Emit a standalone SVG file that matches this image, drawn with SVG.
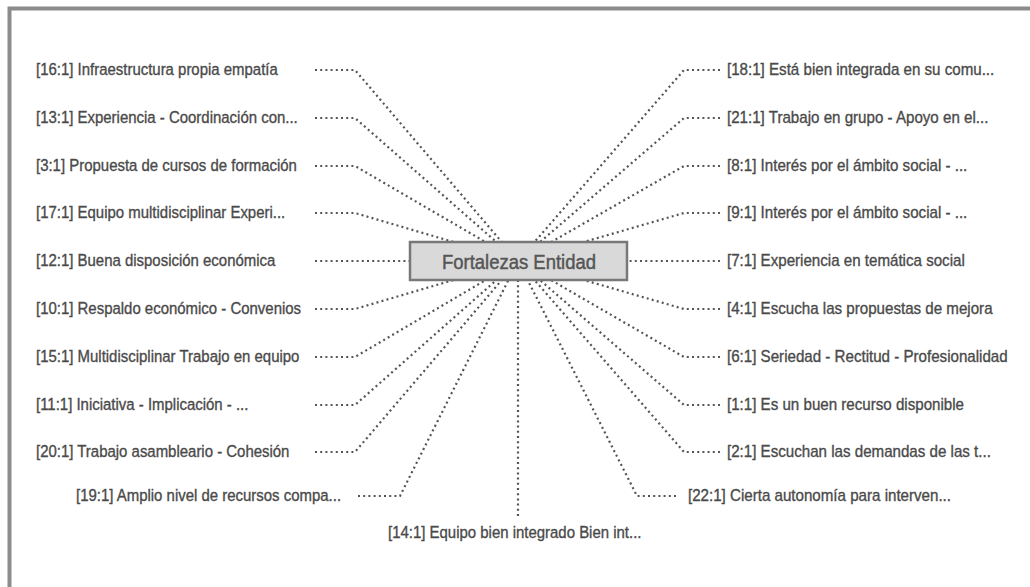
<svg xmlns="http://www.w3.org/2000/svg" width="1030" height="587" viewBox="0 0 1030 587">
<style>
.frame{fill:none;stroke:#8c8c8c;stroke-width:4}
.c{fill:none;stroke:#555;stroke-width:2.2;stroke-dasharray:2 3.2}
.t{font-family:"Liberation Sans",Arial,sans-serif;font-size:17px;fill:#4a4a4a;stroke:#4a4a4a;stroke-width:0.35}
.hub{fill:#d9d9d9;stroke:#787878;stroke-width:2.5}
.ht{font-family:"Liberation Sans",Arial,sans-serif;font-size:21px;fill:#555;stroke:#555;stroke-width:0.45;text-anchor:middle}
</style>
<rect width="1030" height="587" fill="#fff"/>
<path class="frame" d="M9.5 587V8.5H1030"/>
<g id="connectors">
<polyline class="c" points="315,70 355,70 518,261"/>
<polyline class="c" points="315,118 355,118 518,261"/>
<polyline class="c" points="315,166 355,166 518,261"/>
<polyline class="c" points="315,213 355,213 518,261"/>
<polyline class="c" points="315,261 518,261"/>
<polyline class="c" points="315,309 355,309 518,261"/>
<polyline class="c" points="315,357 355,357 518,261"/>
<polyline class="c" points="315,405 355,405 518,261"/>
<polyline class="c" points="315,452 355,452 518,261"/>
<polyline class="c" points="358,496 400,496 518,261"/>
<polyline class="c" points="518,516 518,261"/>
<polyline class="c" points="720,70 684,70 518,261"/>
<polyline class="c" points="720,118 684,118 518,261"/>
<polyline class="c" points="720,166 684,166 518,261"/>
<polyline class="c" points="720,213 684,213 518,261"/>
<polyline class="c" points="720,261 518,261"/>
<polyline class="c" points="720,309 684,309 518,261"/>
<polyline class="c" points="720,357 684,357 518,261"/>
<polyline class="c" points="720,405 684,405 518,261"/>
<polyline class="c" points="720,452 684,452 518,261"/>
<polyline class="c" points="676,496 637,496 518,261"/>
</g>
<g id="hub">
<rect class="hub" x="410" y="242" width="217" height="38"/>
<text class="ht" transform="translate(519,269) scale(0.88,1)">Fortalezas Entidad</text>
</g>
<g id="n16"><text class="t" transform="translate(36,74.5) scale(0.88,1)">[16:1] Infraestructura propia empatía</text></g>
<g id="n13"><text class="t" transform="translate(36,122.5) scale(0.88,1)">[13:1] Experiencia - Coordinación con...</text></g>
<g id="n3"><text class="t" transform="translate(36,170.5) scale(0.88,1)">[3:1] Propuesta de cursos de formación</text></g>
<g id="n17"><text class="t" transform="translate(36,217.5) scale(0.88,1)">[17:1] Equipo multidisciplinar Experi...</text></g>
<g id="n12"><text class="t" transform="translate(36,265.5) scale(0.88,1)">[12:1] Buena disposición económica</text></g>
<g id="n10"><text class="t" transform="translate(36,313.5) scale(0.88,1)">[10:1] Respaldo económico - Convenios</text></g>
<g id="n15"><text class="t" transform="translate(36,361.5) scale(0.88,1)">[15:1] Multidisciplinar Trabajo en equipo</text></g>
<g id="n11"><text class="t" transform="translate(36,409.5) scale(0.88,1)">[11:1] Iniciativa - Implicación - ...</text></g>
<g id="n20"><text class="t" transform="translate(36,456.5) scale(0.88,1)">[20:1] Trabajo asambleario - Cohesión</text></g>
<g id="n19"><text class="t" transform="translate(76,500.5) scale(0.88,1)">[19:1] Amplio nivel de recursos compa...</text></g>
<g id="n14"><text class="t" transform="translate(388,538) scale(0.88,1)">[14:1] Equipo bien integrado Bien int...</text></g>
<g id="n18"><text class="t" transform="translate(727,74.5) scale(0.89,1)">[18:1] Está bien integrada en su comu...</text></g>
<g id="n21"><text class="t" transform="translate(727,122.5) scale(0.89,1)">[21:1] Trabajo en grupo - Apoyo en el...</text></g>
<g id="n8"><text class="t" transform="translate(727,170.5) scale(0.89,1)">[8:1] Interés por el ámbito social - ...</text></g>
<g id="n9"><text class="t" transform="translate(727,217.5) scale(0.89,1)">[9:1] Interés por el ámbito social - ...</text></g>
<g id="n7"><text class="t" transform="translate(727,265.5) scale(0.89,1)">[7:1] Experiencia en temática social</text></g>
<g id="n4"><text class="t" transform="translate(727,313.5) scale(0.89,1)">[4:1] Escucha las propuestas de mejora</text></g>
<g id="n6"><text class="t" transform="translate(727,361.5) scale(0.89,1)">[6:1] Seriedad - Rectitud - Profesionalidad</text></g>
<g id="n1"><text class="t" transform="translate(727,409.5) scale(0.89,1)">[1:1] Es un buen recurso disponible</text></g>
<g id="n2"><text class="t" transform="translate(727,456.5) scale(0.89,1)">[2:1] Escuchan las demandas de las t...</text></g>
<g id="n22"><text class="t" transform="translate(688,500.5) scale(0.89,1)">[22:1] Cierta autonomía para interven...</text></g>
</svg>
